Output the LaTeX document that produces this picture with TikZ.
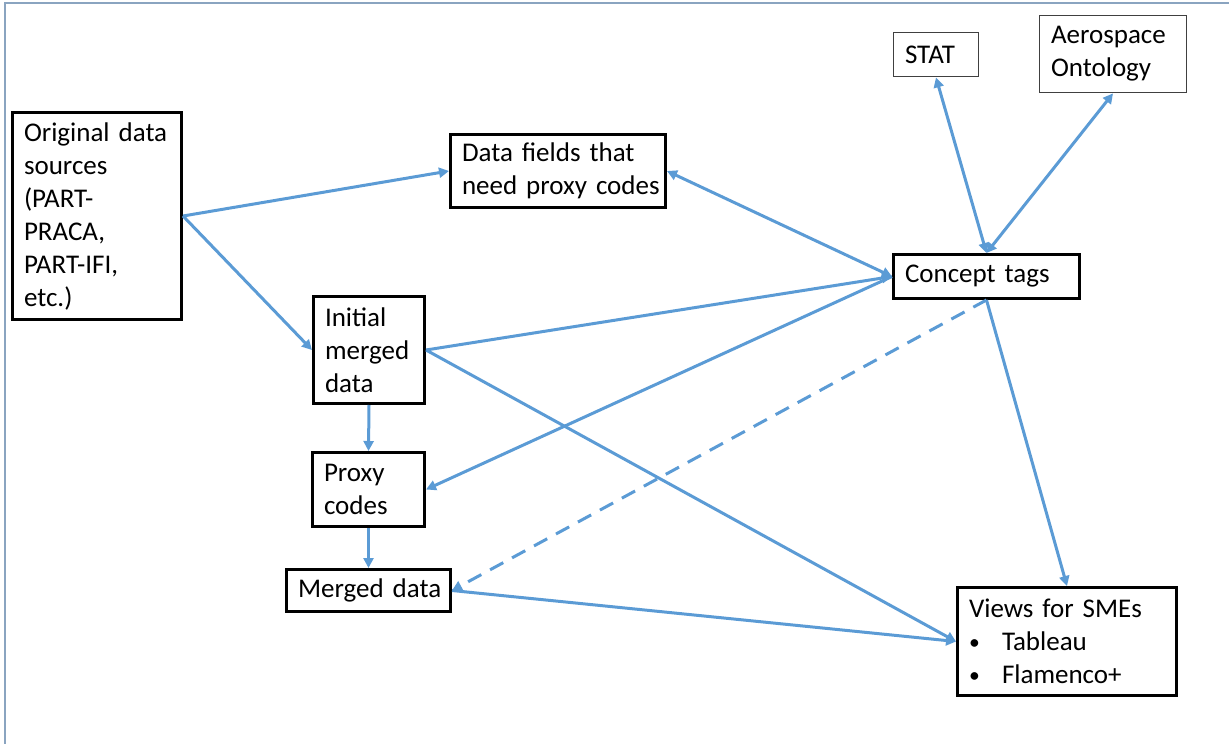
\documentclass[tikz,border=0pt]{standalone}
\usepackage{fontspec}
\setmainfont{Carlito}
\usetikzlibrary{arrows.meta}
\definecolor{flowblue}{HTML}{5B9BD5}
\definecolor{framecol}{HTML}{8AA4C0}
\definecolor{thinbox}{HTML}{404040}
\newcommand{\smallbul}{\makebox[33pt][l]{\raisebox{1pt}{\scalebox{0.8}{•}}}}
\begin{document}
\begin{tikzpicture}[x=1pt,y=-1pt,
  txt/.style={font=\fontsize{27}{33}\selectfont, align=left, inner xsep=11pt, inner ysep=0pt},
  box/.style={txt, draw=black, line width=3pt, rectangle},
  lightbox/.style={txt, draw=thinbox, line width=1.8pt, rectangle},
  flow/.style={draw=flowblue, line width=3pt, -{Triangle[length=10pt,width=10pt]}},
  flowboth/.style={draw=flowblue, line width=3pt, {Triangle[length=10pt,width=10pt]}-{Triangle[length=10pt,width=10pt]}},
  flowdash/.style={flow, dash pattern=on 15pt off 10pt}]
\useasboundingbox (0,0) rectangle (1229,744);
\draw[framecol, line width=2pt] (5,744) -- (5,3) -- (1229,3);

\node[box, minimum width=169pt, minimum height=207pt, text width=146pt] (orig) at (97,216)
  {Original~data\\sources\\(PART-\\PRACA,\\PART-IFI,\\etc.)};
\node[box, minimum width=215pt, minimum height=73pt, text width=192pt] (fields) at (558,171)
  {Data~fields~that\\need~proxy~codes};
\node[box, minimum width=111pt, minimum height=107pt, text width=88pt] (initial) at (369,350)
  {Initial\\merged\\data};
\node[box, minimum width=112pt, minimum height=74pt, text width=89pt] (proxy) at (368.5,489.5)
  {Proxy\\codes};
\node[box, minimum width=164pt, minimum height=42pt, text width=141pt] (merged) at (368.5,590.5)
  {Merged~data};
\node[box, minimum width=186pt, minimum height=44pt, text width=163pt] (concept) at (986.5,276.5)
  {Concept~tags};
\node[lightbox, minimum width=85pt, minimum height=44pt, text width=62pt] (stat) at (936,54.5)
  {STAT};
\node[lightbox, minimum width=147pt, minimum height=77pt, text width=124pt] (aero) at (1113,54)
  {Aerospace\\Ontology};
\node[box, minimum width=219pt, minimum height=108pt, text width=196pt] (views) at (1067,641.5)
  {Views~for~SMEs\\\smallbul Tableau\\\smallbul Flamenco+};

\draw[flow] (orig.east) -- (fields.west);
\draw[flow] (orig.east) -- (initial.west);
\draw[flowboth] (fields.east) -- (concept.west);
\draw[flow] (initial.east) -- (concept.west);
\draw[flow] (concept.west) -- (proxy.east);
\draw[flow] (initial.east) -- (views.west);
\draw[flow] (merged.east) -- (views.west);
\draw[flow] (concept.south) -- (views.north);
\draw[flowdash] (concept.south) -- (merged.east);
\draw[flowboth] (stat.south) -- (concept.north);
\draw[flowboth] (aero.south) -- (concept.north);
\draw[flow] (initial.south) -- (proxy.north);
\draw[flow] (proxy.south) -- (merged.north);
\end{tikzpicture}
\end{document}
